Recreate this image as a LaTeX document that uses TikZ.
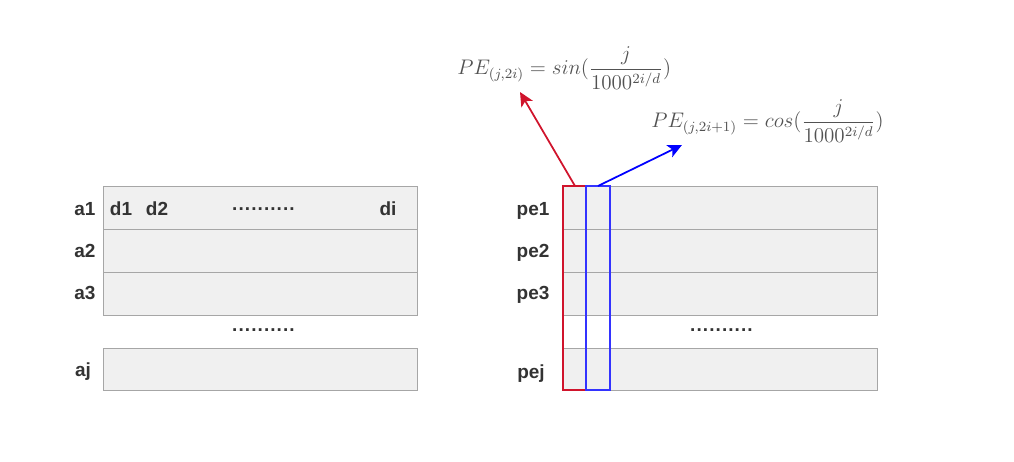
\documentclass[tikz,border=0pt]{standalone}
\usepackage{amsmath}
\usepackage{fontspec}
\setmainfont{Liberation Sans}
\usetikzlibrary{arrows.meta}
\definecolor{boxfill}{HTML}{F0F0F0}
\definecolor{boxline}{HTML}{A6A6A6}
\definecolor{txt}{HTML}{333333}
\definecolor{myred}{HTML}{D0142C}
\definecolor{myblue}{HTML}{0000FF}
\newcommand{\dotrow}{\foreach \k in {1,...,10}{.\kern0.62pt}}
\tikzset{
  row/.style={draw=boxline, fill=boxfill, line width=0.5pt},
  lbl/.style={font=\fontsize{10.8}{12}\selectfont\bfseries, text=txt, inner sep=0pt, anchor=base},
  dots/.style={font=\fontsize{10.8}{12}\selectfont\bfseries, text=txt, inner sep=0pt, anchor=base},
  formula/.style={font=\fontsize{11.8}{13}\selectfont, text=txt!85, inner sep=0pt},
  arr/.style={line width=1pt, -{Stealth[length=8pt,width=7.5pt,inset=2pt]}},
  col/.style={line width=0.7pt}
}
\begin{document}
\begin{tikzpicture}[x=0.02cm,y=-0.02cm]
\useasboundingbox (0,0) rectangle (1014,462);
% left matrix
\draw[row] (103,186) rectangle (417,229);
\draw[row] (103,229) rectangle (417,272);
\draw[row] (103,272) rectangle (417,315);
\draw[row] (103,348) rectangle (417,390);
% right matrix
\draw[row] (563,186) rectangle (877,229);
\draw[row] (563,229) rectangle (877,272);
\draw[row] (563,272) rectangle (877,315);
\draw[row] (563,348) rectangle (877,390);
% highlighted columns
\draw[col, myred] (563,186) rectangle (586,390);
\draw[col, myblue!80] (586,186) rectangle (610,390);
\coordinate (redtop) at (575,186);
\coordinate (bluetop) at (598,186);
% labels left
\node[lbl] (a1) at (85,216) {a1};
\node[lbl] (a2) at (85,258) {a2};
\node[lbl] (a3) at (85,300) {a3};
\node[lbl] (aj) at (83,377) {aj};
\node[lbl] (d1) at (121,216) {d1};
\node[lbl] (d2) at (157,216) {d2};
\node[dots] (dl1) at (264,211) {\dotrow};
\node[lbl] (di) at (388,216) {di};
\node[dots] (dl2) at (264,332) {\dotrow};
% labels right
\node[lbl] (pe1) at (533,216) {pe1};
\node[lbl] (pe2) at (533,258) {pe2};
\node[lbl] (pe3) at (533,300) {pe3};
\node[lbl] (pej) at (531,378) {pej};
\node[dots] (dr) at (722,332) {\dotrow};
% formulas
\node[formula, anchor=west] (f1) at (457,68) {$PE_{(j,2i)} = sin(\dfrac{j}{1000^{2i/d}})$};
\node[formula, anchor=west] (f2) at (651,121) {$PE_{(j,2i+1)} = cos(\dfrac{j}{1000^{2i/d}})$};
\coordinate (f1end) at (520,92);
\coordinate (f2end) at (682,145);
\draw[arr, myred] (redtop) -- (f1end);
\draw[arr, myblue] (bluetop) -- (f2end);
\end{tikzpicture}
\end{document}
